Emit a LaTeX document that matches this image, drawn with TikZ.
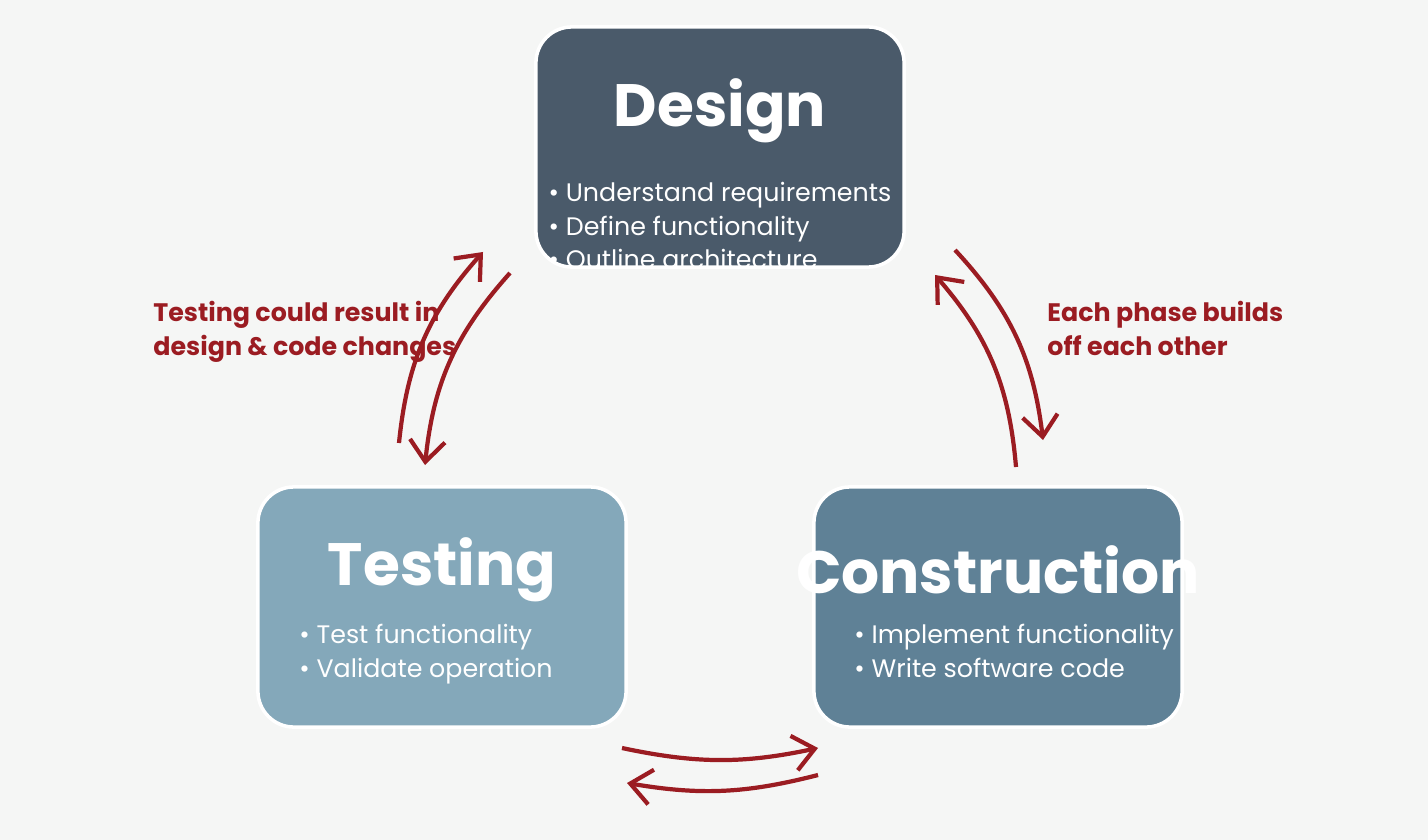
\documentclass[tikz,border=0pt]{standalone}
\usepackage{fontspec}
\setmainfont{Poppins}
\usetikzlibrary{positioning,arrows.meta}
\definecolor{bgx}{HTML}{F5F6F5}
\definecolor{dsx}{HTML}{4A5A6A}
\definecolor{tsx}{HTML}{84A8BA}
\definecolor{csx}{HTML}{5F8196}
\definecolor{rdx}{HTML}{9B1C22}

\begin{document}
\begin{tikzpicture}[
        x=0.01cm, y=-0.01cm,
        phase/.style={draw=white, line width=1pt, rounded corners=0.36cm,
            minimum width=3.68cm, minimum height=2.40cm},
        title/.style={text=white, font=\fontsize{17}{20}\selectfont\bfseries},
        items/.style={text=white, align=left, font=\fontsize{7.2}{9.6}\selectfont},
        note/.style={text=rdx, align=left, font=\fontsize{7.2}{9.6}\selectfont\bfseries, anchor=north west},
        flow/.style={draw=rdx, line width=1.2pt, -{Straight Barb[length=6pt,width=10pt,line width=1.2pt]}}
    ]
        \fill[bgx] (0,0) rectangle (1428,840);
        % phases
        \node[phase, fill=dsx] (design) at (720,147) {};
        \node[phase, fill=tsx] (testing) at (442,607) {};
        \node[phase, fill=csx] (construct) at (998,607) {};
        \node[title] (designT) at (720,111) {Design};
        \node[items, below=0.14cm of designT] (designL)
            {• Understand requirements\\• Define functionality\\• Outline architecture};
        \node[title] (testingT) at (442,570) {Testing};
        \node[items, anchor=north west] (testingL) at (287,612)
            {• Test functionality\\• Validate operation};
        \node[title] (constructT) at (998,570) {Construction};
        \node[items, anchor=north west] (constructL) at (842,612)
            {• Implement functionality\\• Write software code};
        % notes
        \node[note] (noteL) at (141,289) {Testing could result in\\design \& code changes};
        \node[note] (noteR) at (1035,289) {Each phase builds\\off each other};
        % arrow ends
        \coordinate (a1) at (399,443); \coordinate (a2) at (483,252);
        \coordinate (b1) at (510,273); \coordinate (b2) at (425,465);
        \coordinate (c1) at (955,250); \coordinate (c2) at (1043,440);
        \coordinate (d1) at (1016,467); \coordinate (d2) at (935,275);
        \coordinate (e1) at (622,748); \coordinate (e2) at (818,748);
        \coordinate (f1) at (818,775); \coordinate (f2) at (627,783);
        \draw[flow] (a1) to[bend left=18] (a2);
        \draw[flow] (b1) to[bend right=18] (b2);
        \draw[flow] (c1) to[bend left=18] (c2);
        \draw[flow] (d1) to[bend right=18] (d2);
        \draw[flow] (e1) to[bend right=12] (e2);
        \draw[flow] (f1) to[bend left=12] (f2);
\end{tikzpicture}
\end{document}
